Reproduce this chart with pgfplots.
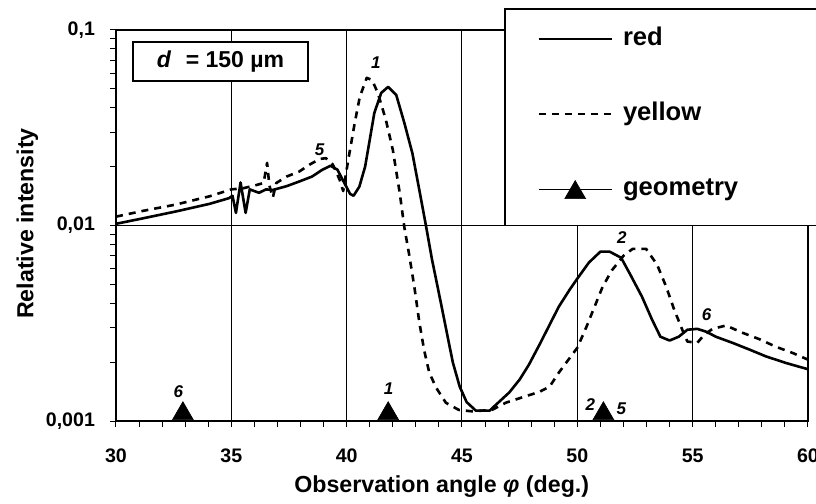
\documentclass[border=0pt]{standalone}
\usepackage{fontspec}
\setmainfont{Liberation Sans}
\usepackage{pgfplots}
\pgfplotsset{compat=1.18}
\pgfplotsset{
  linelegend/.style={legend image code/.code={\draw[##1] (0pt,0pt) -- (36.5pt,0pt);}},
  geolegend/.style={legend image code/.code={\draw[black,line width=0.5pt,solid] (0pt,0pt) -- (36.5pt,0pt); \draw[##1] plot coordinates {(18.25pt,-1.7pt)};}},
}
\begin{document}
\begin{tikzpicture}
\begin{axis}[
  at={(0,0)}, anchor=south west,
  scale only axis, width=346pt, height=195.5pt,
  ymode=log, xmin=30, xmax=60, ymin=0.001, ymax=0.1,
  xtick={30,35,40,45,50,55,60}, xticklabels={30,35,40,45,50,55,60},
  minor xtick={31,32,33,34,36,37,38,39,41,42,43,44,46,47,48,49,51,52,53,54,56,57,58,59},
  ytick={0.001,0.01,0.1}, yticklabels={{0,001},{0,01},{0,1}},
  minor ytick={0.002,0.003,0.004,0.005,0.006,0.007,0.008,0.009,0.02,0.03,0.04,0.05,0.06,0.07,0.08,0.09},
  tick pos=left, tick align=outside,
  major tick length=3pt, minor tick length=3pt,
  grid=major, major grid style={black, line width=0.5pt},
  axis line style={line width=0.6pt},
  every tick/.style={black, line width=0.5pt},
  ticklabel style={font=\fontsize{9.8}{10}\selectfont\bfseries},
  xticklabel style={yshift=-7.5pt},
  yticklabel style={xshift=-4pt},
  xlabel={Observation angle \textit{φ} (deg.)},
  ylabel={Relative intensity},
  label style={font=\fontsize{11.6}{12}\selectfont\bfseries},
  xlabel style={at={(axis description cs:0.4707,-0.168)}, anchor=center},
  ylabel style={at={(axis description cs:-0.128,0.505)}, anchor=center},
  clip=false,
  linelegend,
  legend cell align=left,
  legend style={draw=none, fill=none, at={(axis description cs:0.6084,1.0095)}, anchor=north west,
    inner sep=0pt, row sep=25pt, font=\fontsize{12.8}{14}\selectfont\bfseries,
    nodes={inner sep=0pt, text height=9.5pt, text depth=3pt},
    /tikz/every odd column/.append style={column sep=5pt}},
]
% legend frame (drawn before the legend itself)
\draw[line width=0.6pt, fill=white] (axis description cs:0.5621,1.0537) rectangle (axis description cs:1.2,0.5);

\addplot[black, line width=1.3pt, line join=round] coordinates {
(30.0,0.0102) (31.2,0.0109) (32.6,0.0118) (34.05,0.0129) (34.9,0.0138) (35.05,0.0142)
(35.2,0.0116) (35.4,0.0166) (35.62,0.0116) (35.8,0.0153) (36.2,0.0147) (36.5,0.0153)
(36.8,0.0152) (37.4,0.0159) (37.95,0.0168) (38.5,0.0178) (38.95,0.0193) (39.3,0.0202)
(39.6,0.0193) (39.9,0.0165) (40.15,0.0145) (40.3,0.0142) (40.55,0.0158) (40.8,0.0200)
(41.0,0.0274) (41.2,0.0377) (41.5,0.0477) (41.8,0.0512) (42.15,0.0465) (42.5,0.0335)
(42.85,0.0234) (43.15,0.0152) (43.45,0.0098) (43.7,0.0067) (44.0,0.0045) (44.3,0.0030)
(44.6,0.0020) (44.9,0.00150) (45.2,0.00125) (45.6,0.00113) (46.2,0.00113) (46.5,0.00122)
(47.05,0.0014) (47.5,0.00163) (47.9,0.00194) (48.4,0.00251) (48.8,0.00311) (49.2,0.00385)
(49.67,0.0047) (50.0,0.00535) (50.5,0.00646) (51.0,0.00735) (51.4,0.00735) (51.9,0.00684)
(52.3,0.0056) (52.8,0.00433) (53.24,0.0033) (53.6,0.0027) (54.0,0.00258) (54.4,0.0027)
(54.77,0.00293) (55.2,0.00296) (55.6,0.00286) (56.0,0.0027) (56.73,0.00251) (57.46,0.00232)
(58.18,0.00214) (59.05,0.00198) (60.0,0.00184)
};
\addlegendentry{red}

\addplot[black, line width=1.3pt, dash pattern=on 3.5pt off 3pt, line join=round] coordinates {
(30.0,0.0111) (31.2,0.0119) (32.6,0.0128) (34.05,0.0141) (35.0,0.0153) (35.5,0.0155)
(36.0,0.0160) (36.4,0.0165) (36.55,0.0209) (36.65,0.0160) (36.8,0.0139) (36.95,0.0165)
(37.4,0.0178) (37.95,0.0189) (38.4,0.0205) (38.83,0.0219) (39.1,0.0221) (39.4,0.0205)
(39.7,0.0171) (39.85,0.0150) (40.07,0.0217) (40.2,0.0265) (40.35,0.0335) (40.57,0.0455)
(40.87,0.0569) (41.1,0.0555) (41.35,0.0477) (41.7,0.0347) (42.0,0.0244) (42.3,0.0147)
(42.5,0.0098) (42.7,0.0072) (42.93,0.0049) (43.15,0.0032) (43.36,0.0023) (43.58,0.00177)
(43.88,0.00148) (44.3,0.00124) (44.86,0.00114) (45.45,0.00112) (46.3,0.00114) (46.9,0.00124)
(47.6,0.00132) (48.36,0.00141) (48.8,0.0015) (49.2,0.00177) (49.67,0.0021) (50.0,0.00237)
(50.4,0.00304) (50.75,0.00385) (51.1,0.00487) (51.5,0.0059) (52.0,0.0070) (52.4,0.0076)
(52.98,0.0076) (53.46,0.0063) (53.85,0.00487) (54.2,0.00371) (54.55,0.00293) (54.77,0.00255)
(55.2,0.00251) (55.5,0.00276) (55.86,0.00296) (56.45,0.00308) (57.15,0.00283) (57.9,0.00262)
(58.6,0.0024) (59.33,0.00223) (60.0,0.00206)
};
\addlegendentry{yellow}

\addplot[only marks, mark=triangle*, mark size=6pt, black, mark options={line width=0.3pt}, geolegend] coordinates {
(32.9,0.00109) (41.8,0.00109) (51.13,0.00109)
};
\addlegendentry{geometry}

\node[draw, line width=0.6pt, fill=white, minimum width=87.5pt, minimum height=19.5pt, inner sep=0pt,
  font=\fontsize{11.5}{12}\selectfont\bfseries] at (axis description cs:0.151,0.9194) {\textit{d}\hspace{4pt} = 150 µm};

\begin{scope}[every node/.style={font=\fontsize{8.5}{9}\selectfont\bfseries\itshape}]
\node at (axis cs:38.83,0.0244) {5};
\node at (axis cs:41.27,0.0679) {1};
\node at (axis cs:51.93,0.00865) {2};
\node at (axis cs:55.6,0.00352) {6};
\node at (axis cs:32.7,0.00142) {6};
\node at (axis cs:41.82,0.00147) {1};
\node at (axis cs:50.57,0.00122) {2};
\node at (axis cs:51.91,0.00115) {5};
\end{scope}
\end{axis}
\pgfresetboundingbox
\path[use as bounding box] (-58pt,-41.5pt) rectangle (350pt,210.5pt);
\end{tikzpicture}
\end{document}
